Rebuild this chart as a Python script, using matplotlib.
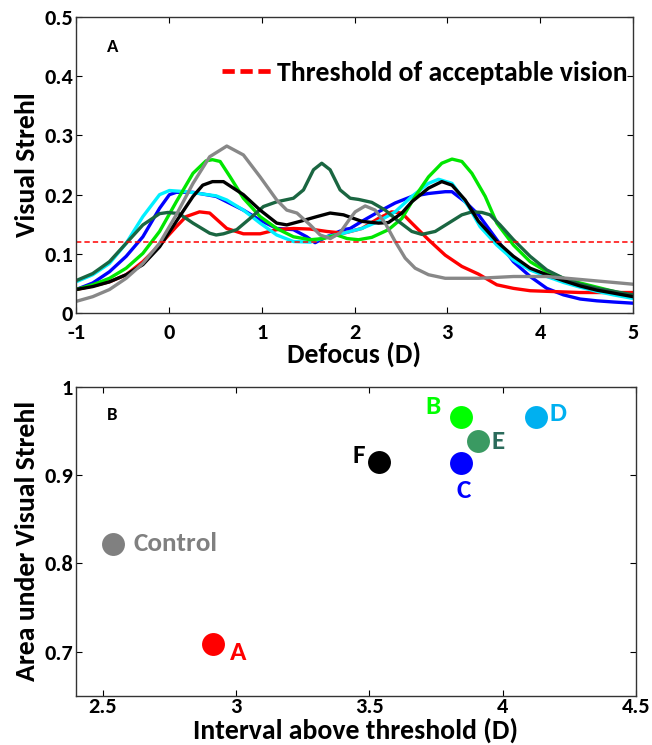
import matplotlib
matplotlib.use("Agg")
import matplotlib.pyplot as plt

plt.rcParams['font.family'] = ['Carlito', 'DejaVu Sans']
plt.rcParams['font.weight'] = 'bold'
plt.rcParams['axes.unicode_minus'] = False

# ---------------- Panel A data (Visual Strehl vs defocus) ----------------
gray_x = [-1, -0.82, -0.64, -0.46, -0.28, -0.10, 0.08, 0.26, 0.44, 0.624, 0.803, 0.983, 1.162, 1.27, 1.38, 1.522, 1.63, 1.74, 1.84, 1.953, 2.007, 2.115, 2.222, 2.33, 2.438, 2.546, 2.653, 2.797, 2.977, 3.336, 3.712, 4.071, 4.431, 4.79, 5.0]
gray_y = [0.020, 0.028, 0.040, 0.059, 0.084, 0.118, 0.166, 0.219, 0.264, 0.282, 0.267, 0.230, 0.191, 0.174, 0.169, 0.149, 0.132, 0.126, 0.135, 0.160, 0.171, 0.181, 0.174, 0.152, 0.121, 0.093, 0.076, 0.065, 0.059, 0.059, 0.062, 0.062, 0.057, 0.052, 0.049]

red_x = [-1, -0.82, -0.64, -0.46, -0.28, -0.10, 0.08, 0.185, 0.33, 0.44, 0.624, 0.803, 0.983, 1.162, 1.342, 1.522, 1.701, 1.881, 2.079, 2.258, 2.40, 2.51, 2.617, 2.797, 2.977, 3.156, 3.336, 3.533, 3.712, 3.892, 4.071, 4.431, 5.0]
red_y = [0.040, 0.046, 0.053, 0.065, 0.087, 0.115, 0.146, 0.163, 0.171, 0.169, 0.143, 0.134, 0.134, 0.141, 0.143, 0.142, 0.138, 0.135, 0.143, 0.160, 0.171, 0.169, 0.152, 0.124, 0.098, 0.079, 0.066, 0.048, 0.042, 0.038, 0.037, 0.035, 0.035]

black_x = [-1, -0.82, -0.64, -0.46, -0.28, -0.10, 0.08, 0.26, 0.365, 0.47, 0.588, 0.803, 0.983, 1.162, 1.27, 1.414, 1.594, 1.737, 1.881, 2.079, 2.258, 2.366, 2.51, 2.617, 2.797, 2.94, 3.05, 3.192, 3.336, 3.533, 3.712, 3.892, 4.071, 4.251, 4.431, 4.61, 4.79, 5.0]
black_y = [0.040, 0.045, 0.053, 0.065, 0.082, 0.112, 0.155, 0.197, 0.216, 0.222, 0.222, 0.200, 0.174, 0.152, 0.149, 0.155, 0.163, 0.169, 0.166, 0.155, 0.152, 0.153, 0.169, 0.188, 0.211, 0.222, 0.216, 0.191, 0.155, 0.121, 0.096, 0.076, 0.065, 0.055, 0.046, 0.039, 0.034, 0.028]

blue_x = [-1, -0.82, -0.64, -0.46, -0.28, -0.10, 0.006, 0.08, 0.26, 0.51, 0.624, 0.803, 0.983, 1.162, 1.342, 1.485, 1.575, 1.701, 1.881, 1.953, 2.079, 2.258, 2.438, 2.617, 2.797, 2.977, 3.05, 3.192, 3.336, 3.533, 3.712, 3.892, 4.071, 4.251, 4.431, 4.61, 4.79, 5.0]
blue_y = [0.040, 0.051, 0.070, 0.096, 0.129, 0.177, 0.200, 0.204, 0.204, 0.197, 0.188, 0.174, 0.157, 0.143, 0.141, 0.129, 0.119, 0.129, 0.141, 0.143, 0.155, 0.171, 0.186, 0.197, 0.202, 0.205, 0.205, 0.188, 0.166, 0.124, 0.087, 0.062, 0.042, 0.031, 0.024, 0.021, 0.019, 0.017]

cyan_x = [-1, -0.82, -0.64, -0.46, -0.28, -0.10, 0.006, 0.185, 0.51, 0.624, 0.803, 0.983, 1.162, 1.342, 1.522, 1.701, 1.881, 1.953, 2.079, 2.258, 2.438, 2.617, 2.797, 2.905, 3.05, 3.228, 3.353, 3.533, 3.712, 3.892, 4.071, 4.251, 4.431, 4.61, 4.79, 5.0]
cyan_y = [0.053, 0.065, 0.084, 0.118, 0.163, 0.200, 0.207, 0.205, 0.198, 0.191, 0.174, 0.152, 0.132, 0.121, 0.120, 0.129, 0.135, 0.138, 0.143, 0.155, 0.171, 0.197, 0.219, 0.226, 0.219, 0.180, 0.146, 0.115, 0.090, 0.073, 0.062, 0.052, 0.044, 0.037, 0.031, 0.025]

green_x = [-1, -0.82, -0.64, -0.46, -0.28, -0.10, 0.08, 0.26, 0.40, 0.47, 0.552, 0.66, 0.803, 0.983, 1.162, 1.342, 1.522, 1.665, 1.809, 1.92, 2.043, 2.186, 2.366, 2.51, 2.653, 2.797, 2.94, 3.05, 3.156, 3.264, 3.408, 3.533, 3.712, 3.892, 4.071, 4.251, 4.431, 4.61, 4.79, 5.0]
green_y = [0.040, 0.048, 0.059, 0.076, 0.101, 0.138, 0.188, 0.236, 0.257, 0.259, 0.256, 0.230, 0.194, 0.163, 0.143, 0.129, 0.124, 0.126, 0.132, 0.126, 0.124, 0.128, 0.141, 0.160, 0.197, 0.230, 0.253, 0.260, 0.256, 0.236, 0.197, 0.152, 0.115, 0.087, 0.070, 0.059, 0.051, 0.044, 0.037, 0.029]

dkgreen_x = [-1, -0.82, -0.64, -0.46, -0.28, -0.10, -0.01, 0.11, 0.26, 0.44, 0.51, 0.588, 0.731, 0.875, 1.019, 1.162, 1.342, 1.45, 1.558, 1.647, 1.737, 1.845, 1.953, 2.043, 2.186, 2.33, 2.474, 2.617, 2.725, 2.869, 3.013, 3.156, 3.264, 3.372, 3.46, 3.568, 3.712, 3.892, 4.071, 4.251, 4.431, 4.61, 4.79, 5.0]
dkgreen_y = [0.055, 0.067, 0.087, 0.118, 0.149, 0.168, 0.170, 0.168, 0.152, 0.135, 0.132, 0.134, 0.141, 0.160, 0.180, 0.188, 0.194, 0.208, 0.242, 0.253, 0.242, 0.208, 0.194, 0.192, 0.187, 0.174, 0.155, 0.138, 0.133, 0.138, 0.152, 0.166, 0.171, 0.170, 0.166, 0.149, 0.124, 0.096, 0.073, 0.059, 0.049, 0.042, 0.037, 0.031]

threshold = 0.12
legend_label = 'Threshold of acceptable vision'

# ---------------- Panel B data ----------------
groups = ['Control', 'A', 'F', 'B', 'C', 'E', 'D']
interval = [2.54, 2.912, 3.537, 3.844, 3.843, 3.906, 4.125]
area = [0.822, 0.709, 0.915, 0.966, 0.914, 0.938, 0.966]
point_colors = ['#808080', '#ff0000', '#000000', '#00ff00', '#0000ff', '#3a9a62', '#00b0f0']
label_colors = ['#808080', '#ff0000', '#000000', '#00ff00', '#0000ff', '#2b6b5b', '#00b0f0']
label_x = [2.616, 3.01, 3.46, 3.74, 3.853, 3.983, 4.208]
label_y = [0.822, 0.699, 0.922, 0.978, 0.883, 0.938, 0.970]
label_ha = ['left', 'center', 'center', 'center', 'center', 'center', 'center']

fig = plt.figure(figsize=(6.52, 7.45), dpi=100)
ax1 = fig.add_axes([0.1166, 0.5795, 0.8543, 0.398])
ax2 = fig.add_axes([0.1166, 0.0658, 0.8589, 0.4152])

lw = 2.4
kw = dict(lw=lw, solid_joinstyle='round', solid_capstyle='round')
ax1.plot(blue_x, blue_y, color='#0000ff', **kw)
ax1.plot(red_x, red_y, color='#ff0000', **kw)
ax1.plot(cyan_x, cyan_y, color='#00f0ff', **kw)
ax1.plot(green_x, green_y, color='#00e600', **kw)
ax1.plot(dkgreen_x, dkgreen_y, color='#1a6641', **kw)
ax1.plot(black_x, black_y, color='#000000', **kw)
ax1.plot(gray_x, gray_y, color='#888888', **kw)
ax1.axhline(threshold, color='#ff0000', lw=1.1, ls=(0, (3.5, 2)), label=legend_label)
leg = ax1.legend(loc='center right', frameon=False, fontsize=20, handlelength=1.75,
                 handletextpad=0.22, borderaxespad=0, borderpad=0,
                 bbox_to_anchor=(0.99, 0.81))
for ln in leg.get_lines():
    ln.set_linewidth(3.4)
    ln.set_linestyle((0, (2.6, 1.2)))

ax1.set_xlim(-1, 5)
ax1.set_ylim(0, 0.5)
ax1.set_xticks([-1, 0, 1, 2, 3, 4, 5])
ax1.set_yticks([0, 0.1, 0.2, 0.3, 0.4, 0.5])
ax1.set_yticklabels(['0', '0.1', '0.2', '0.3', '0.4', '0.5'])
ax1.set_xlabel('Defocus (D)', fontsize=20, fontweight='bold', labelpad=-1)
ax1.set_ylabel('Visual Strehl', fontsize=20, fontweight='bold', labelpad=4)
ax1.text(-0.61, 0.449, 'A', fontsize=13.5, fontweight='bold', ha='center', va='center')

for xi, yi, c in zip(interval, area, point_colors):
    ax2.plot([xi], [yi], 'o', color=c, markersize=16.5, markeredgewidth=0)
for g, lx, ly, c, ha in zip(groups, label_x, label_y, label_colors, label_ha):
    ax2.text(lx, ly, g, color=c, fontsize=19.5, fontweight='bold', ha=ha, va='center')
ax2.set_xlim(2.4, 4.5)
ax2.set_ylim(0.65, 1.0)
ax2.set_xticks([2.5, 3, 3.5, 4, 4.5])
ax2.set_xticklabels(['2.5', '3', '3.5', '4', '4.5'])
ax2.set_yticks([0.7, 0.8, 0.9, 1.0])
ax2.set_yticklabels(['0.7', '0.8', '0.9', '1'])
ax2.set_xlabel('Interval above threshold (D)', fontsize=20, fontweight='bold', labelpad=0)
ax2.set_ylabel('Area under Visual Strehl', fontsize=20, fontweight='bold', labelpad=4)
ax2.text(2.534, 0.968, 'B', fontsize=13.5, fontweight='bold', ha='center', va='center')

for ax in (ax1, ax2):
    ax.tick_params(direction='in', top=True, right=True, length=4, width=0.8,
                   labelsize=16)
    ax.tick_params(axis='y', pad=2)
    for lab in ax.get_xticklabels() + ax.get_yticklabels():
        lab.set_fontweight('bold')
    for sp in ax.spines.values():
        sp.set_linewidth(1.0)
        sp.set_color('#333333')
ax1.tick_params(axis='x', pad=7)
ax2.tick_params(axis='x', pad=1)

fig.savefig('out.png', dpi=100)
